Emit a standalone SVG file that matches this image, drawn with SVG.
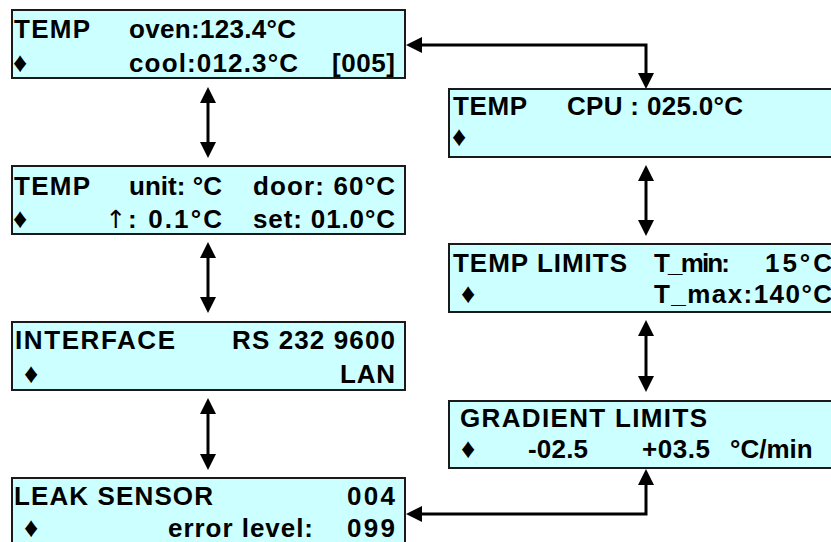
<svg xmlns="http://www.w3.org/2000/svg" width="831" height="542" viewBox="0 0 831 542">
<style>
.box{fill:#CCFFFF;stroke:#1a1a1a;stroke-width:2}
text{font-family:"Liberation Sans",Arial,sans-serif;font-weight:bold;font-size:26px;fill:#000}
.d{font-size:28px}
.ar{font-family:"DejaVu Sans",sans-serif;font-weight:normal;font-size:25px;text-anchor:middle}
.c{fill:none;stroke:#000;stroke-width:3}
</style>
<defs>
<marker id="ah" viewBox="0 0 16 16" refX="12" refY="8" markerWidth="16" markerHeight="16" markerUnits="userSpaceOnUse" orient="auto-start-reverse">
<path d="M0,0 L16,8 L0,16 z" fill="#000"/>
</marker>
</defs>
<rect width="831" height="542" fill="#fff"/>
<g id="connectors">
<line class="c" x1="208" y1="91" x2="208" y2="154" marker-start="url(#ah)" marker-end="url(#ah)"/>
<line class="c" x1="208" y1="246" x2="208" y2="309" marker-start="url(#ah)" marker-end="url(#ah)"/>
<line class="c" x1="208" y1="402" x2="208" y2="466" marker-start="url(#ah)" marker-end="url(#ah)"/>
<line class="c" x1="646" y1="169" x2="646" y2="232" marker-start="url(#ah)" marker-end="url(#ah)"/>
<line class="c" x1="646" y1="324" x2="646" y2="388" marker-start="url(#ah)" marker-end="url(#ah)"/>
<path class="c" d="M410,45 H646 V85" marker-start="url(#ah)" marker-end="url(#ah)"/>
<path class="c" d="M410,514 H646 V473" marker-start="url(#ah)" marker-end="url(#ah)"/>
</g>
<g id="temp-oven">
<rect class="box" x="12" y="10" width="393" height="68"/>
<text x="14" y="38" textLength="76">TEMP</text>
<text x="129" y="38" textLength="167">oven:123.4°C</text>
<text class="d" x="13" y="72">♦</text>
<text x="129" y="72" textLength="169">cool:012.3°C</text>
<text x="332" y="72" textLength="63">[005]</text>
</g>
<g id="temp-unit">
<rect class="box" x="12" y="166" width="393" height="68"/>
<text x="14" y="195" textLength="76">TEMP</text>
<text x="129" y="195" textLength="93">unit: °C</text>
<text x="253" y="195" textLength="142">door: 60°C</text>
<text class="d" x="13" y="228">♦</text>
<text class="ar" x="116" y="228">↑</text>
<text x="128" y="228" textLength="94">: 0.1°C</text>
<text x="253" y="228" textLength="142">set: 01.0°C</text>
</g>
<g id="interface">
<rect class="box" x="12" y="322" width="393" height="68"/>
<text x="15" y="349" textLength="160">INTERFACE</text>
<text x="232" y="349" textLength="163">RS 232 9600</text>
<text class="d" x="24" y="383">♦</text>
<text x="340" y="383" textLength="55">LAN</text>
</g>
<g id="leak-sensor">
<rect class="box" x="12" y="478" width="393" height="68"/>
<text x="14" y="505" textLength="199">LEAK SENSOR</text>
<text x="347" y="505" textLength="48">004</text>
<text class="d" x="24" y="537">♦</text>
<text x="168" y="537" textLength="145">error level:</text>
<text x="347" y="537" textLength="48">099</text>
</g>
<g id="temp-cpu">
<rect class="box" x="449" y="89" width="400" height="68"/>
<text x="453" y="115" textLength="74">TEMP</text>
<text x="567" y="115" textLength="176">CPU : 025.0°C</text>
<text class="d" x="452" y="146">♦</text>
</g>
<g id="temp-limits">
<rect class="box" x="449" y="244" width="400" height="68"/>
<text x="453" y="272" textLength="174">TEMP LIMITS</text>
<text x="654" y="272" textLength="76">T_min:</text>
<text x="765" y="272" textLength="67">15°C</text>
<text class="d" x="461" y="303">♦</text>
<text x="654" y="303" textLength="178">T_max:140°C</text>
</g>
<g id="gradient-limits">
<rect class="box" x="449" y="401" width="400" height="67"/>
<text x="460" y="427" textLength="247">GRADIENT LIMITS</text>
<text class="d" x="461" y="458">♦</text>
<text x="528" y="458" textLength="60">-02.5</text>
<text x="642" y="458" textLength="68">+03.5</text>
<text x="730" y="458">°C/min</text>
</g>
</svg>
